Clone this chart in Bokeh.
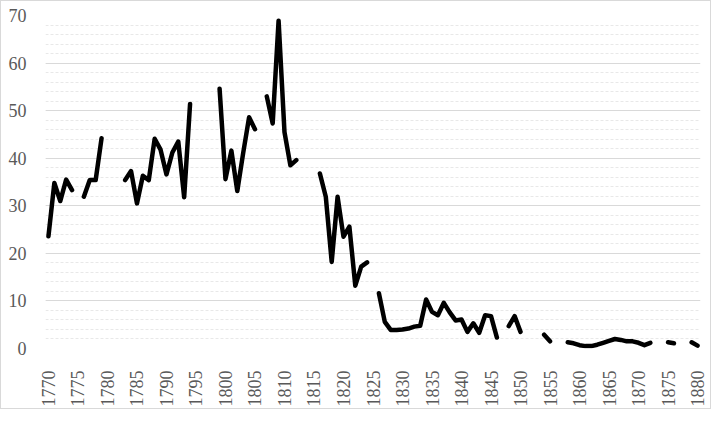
import math
from bokeh.plotting import figure
from bokeh.models import FixedTicker, Range1d
from bokeh.embed import file_html
from bokeh.resources import INLINE

years = list(range(1770, 1881))

# None marks years with no value (gaps in the line)
values = [
    # 1770-1779
    23.6, 34.8, 31.0, 35.5, 33.3, None, 31.9, 35.4, 35.4, 44.2,
    # 1780-1789
    None, None, None, 35.4, 37.3, 30.5, 36.3, 35.4, 44.1, 41.8,
    # 1790-1799
    36.6, 41.2, 43.5, 31.8, 51.4, None, None, None, None, 54.6,
    # 1800-1809
    35.6, 41.6, 33.1, 41.1, 48.6, 46.1, None, 53.0, 47.3, 68.9,
    # 1810-1819
    45.5, 38.5, 39.6, None, None, None, 36.8, 31.9, 18.2, 31.9,
    # 1820-1829
    23.5, 25.6, 13.2, 17.2, 18.1, None, 11.6, 5.6, 3.9, 3.9,
    # 1830-1839
    4.0, 4.2, 4.6, 4.8, 10.3, 7.7, 7.0, 9.6, 7.6, 5.9,
    # 1840-1849
    6.1, 3.5, 5.3, 3.3, 7.0, 6.8, 2.3, None, 4.7, 6.8,
    # 1850-1859
    3.5, None, None, None, 2.9, 1.5, None, None, 1.3, 1.1,
    # 1860-1869
    0.7, 0.5, 0.5, 0.8, 1.2, 1.6, 2.0, 1.8, 1.5, 1.5,
    # 1870-1880
    1.2, 0.7, 1.2, None, None, 1.3, 1.1, None, None, 1.3, 0.6,
]

y_ticks = [0, 10, 20, 30, 40, 50, 60, 70]
x_ticks = list(range(1770, 1881, 5))

ys = [float("nan") if v is None else v for v in values]

p = figure(width=711, height=409, output_backend="svg", toolbar_location=None,
           x_range=Range1d(1769.5, 1880.5), y_range=Range1d(0, 70),
           min_border_left=44, min_border_right=12, min_border_top=14,
           min_border_bottom=62)
p.styles = {"border": "1px solid #d9d9d9"}
p.outline_line_color = None
p.background_fill_color = "white"
p.border_fill_color = "white"

p.line(years, ys, line_color="black", line_width=4.5,
       line_join="round", line_cap="round")

font = "Liberation Serif"
for ax in (p.xaxis[0], p.yaxis[0]):
    ax.axis_line_color = None
    ax.major_tick_line_color = None
    ax.minor_tick_line_color = None
    ax.major_label_text_font = font
    ax.major_label_text_font_size = "18px"
    ax.major_label_text_color = "#595959"

p.yaxis[0].ticker = FixedTicker(ticks=y_ticks, minor_ticks=list(range(0, 71, 2)))
p.yaxis[0].major_label_standoff = 13
p.xaxis[0].ticker = FixedTicker(ticks=x_ticks)
p.xaxis[0].major_label_orientation = math.pi / 2
p.xaxis[0].major_label_standoff = 16

p.xgrid.grid_line_color = None
p.ygrid.grid_line_color = "#d9d9d9"
p.ygrid.grid_line_width = 1
p.ygrid.minor_grid_line_color = "#e8e8e8"
p.ygrid.minor_grid_line_dash = "3 2"
p.ygrid.minor_grid_line_width = 1

open("out.html", "w").write(file_html(p, INLINE))
